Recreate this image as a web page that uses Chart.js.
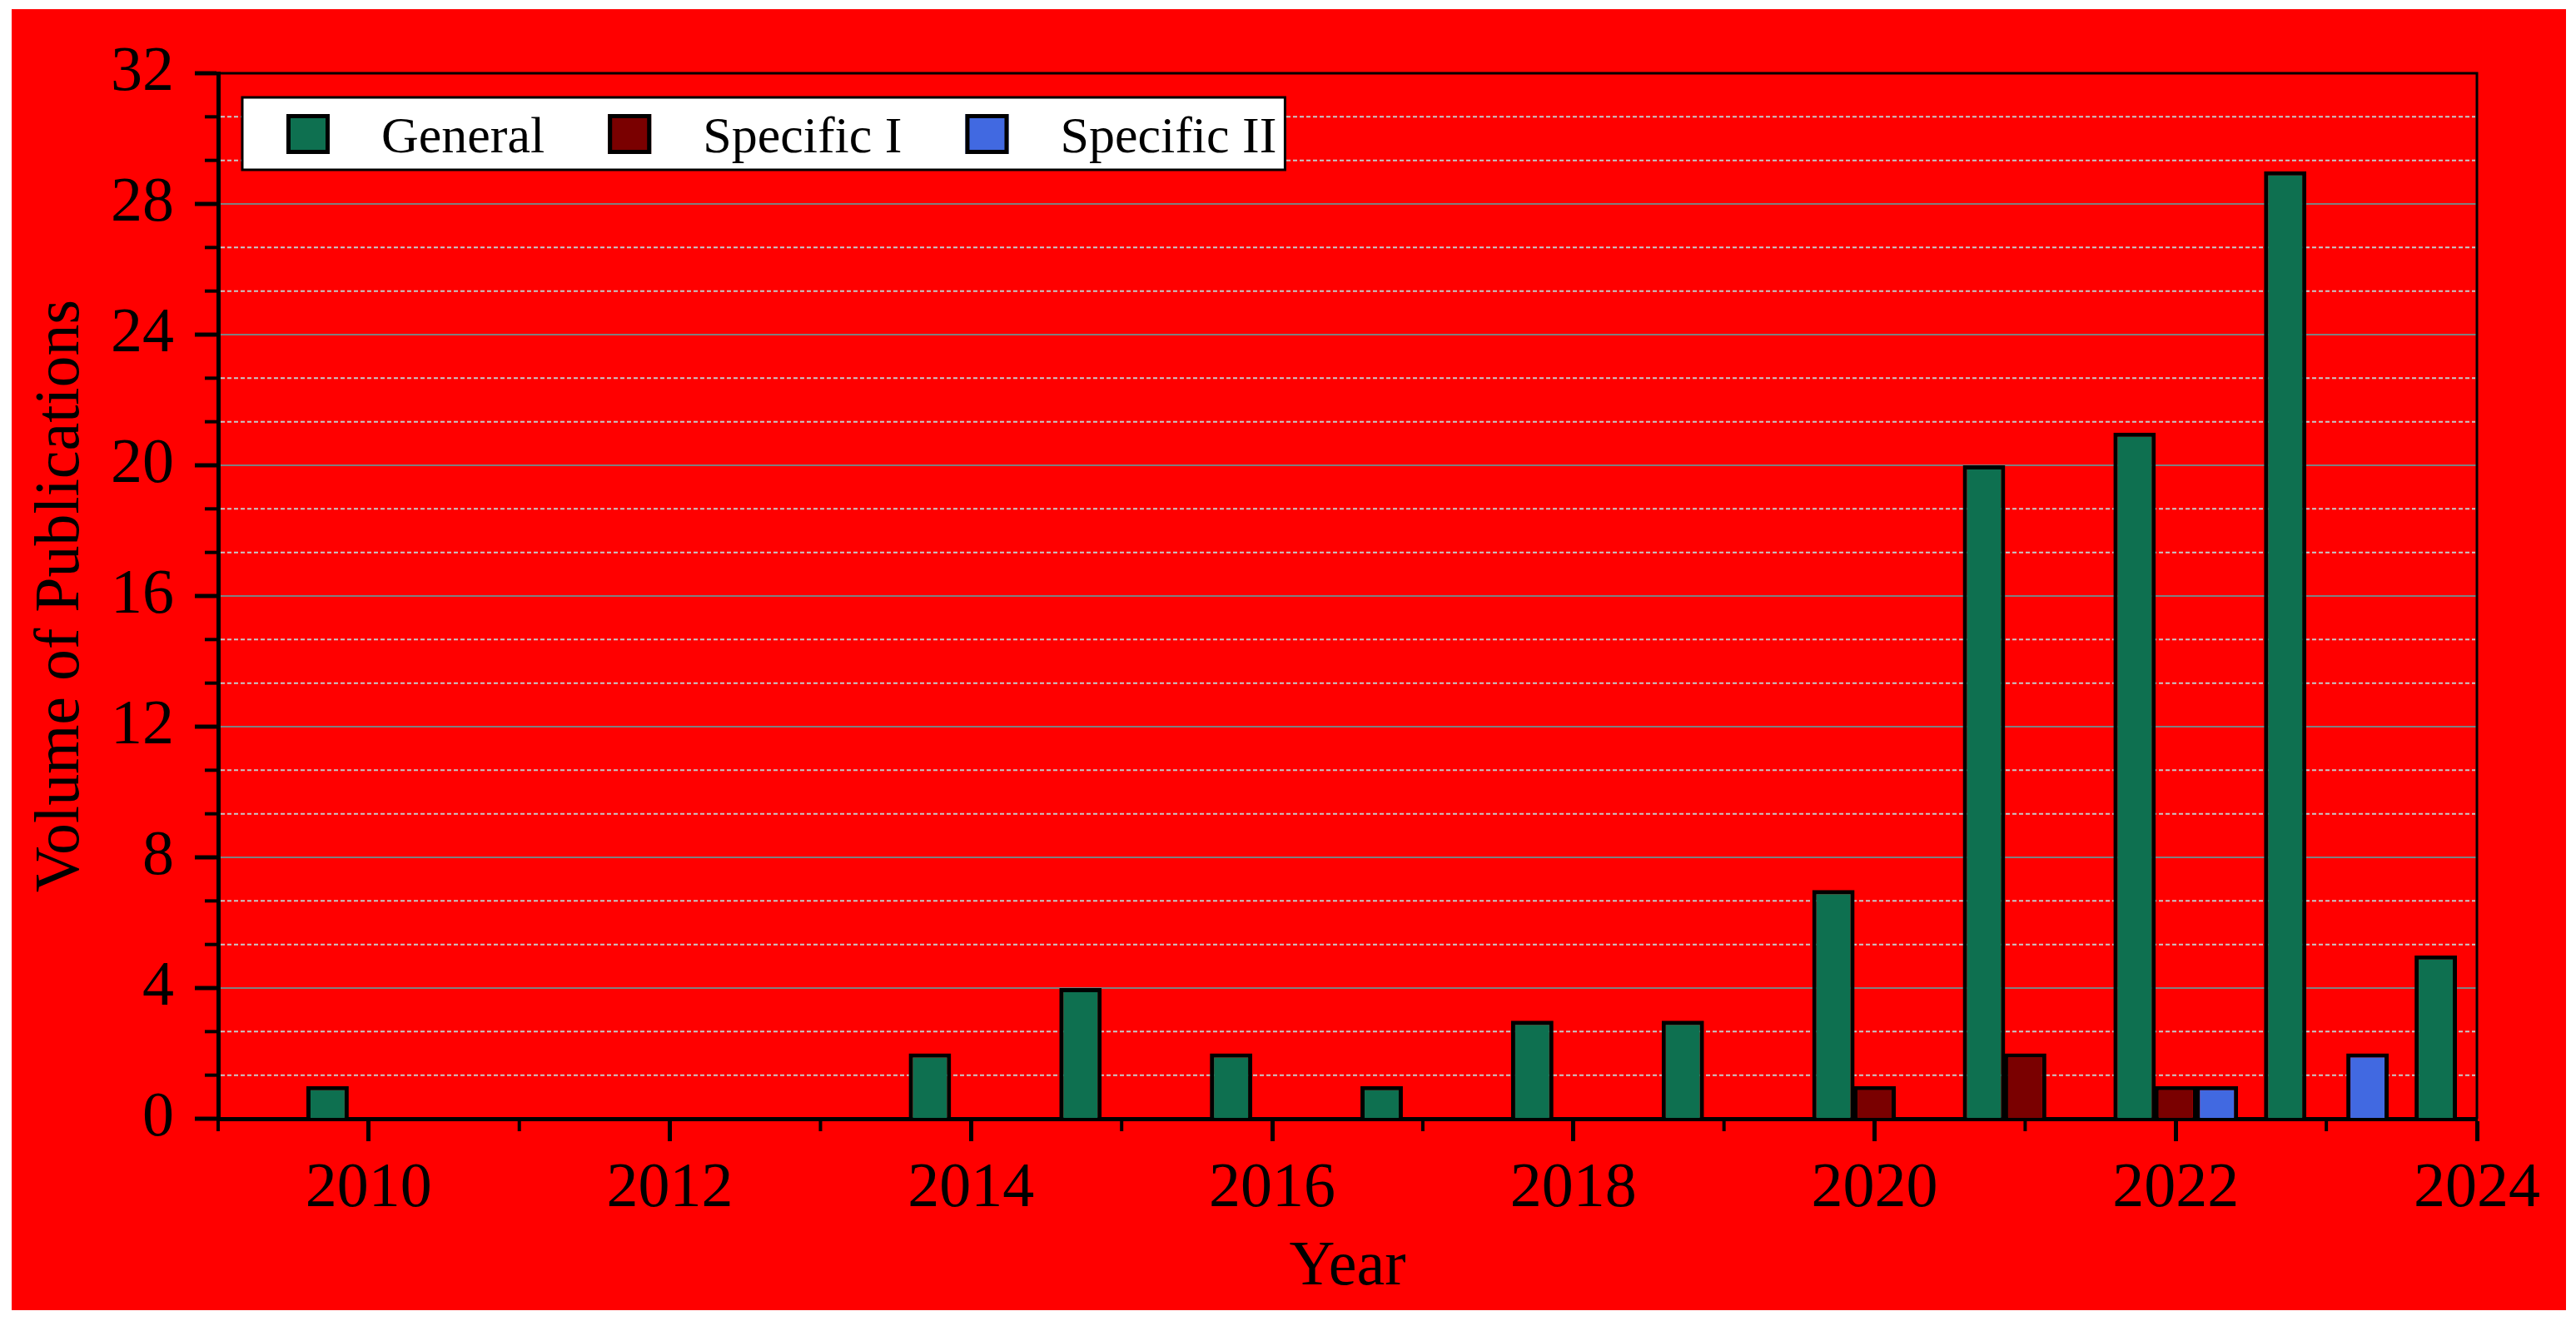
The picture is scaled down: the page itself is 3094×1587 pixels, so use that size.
<!DOCTYPE html>
<html>
<head>
<meta charset="utf-8">
<script src="https://cdn.jsdelivr.net/npm/chart.js@4.4.1/dist/chart.umd.min.js"></script>
<style>
  html, body { margin: 0; padding: 0; background: #ffffff; }
  #wrap { position: absolute; left: 14px; top: 11px; width: 3068px; height: 1563px; background: #ff0000; }
</style>
</head>
<body>
<div id="wrap"><canvas id="pubs"></canvas></div>
<script>
var years = [2010, 2011, 2012, 2013, 2014, 2015, 2016, 2017, 2018, 2019, 2020, 2021, 2022, 2023, 2024];
var general = [1, 0, 0, 0, 2, 4, 2, 1, 3, 3, 7, 20, 21, 29, 5];
var specificOne = [0, 0, 0, 0, 0, 0, 0, 0, 0, 0, 1, 2, 1, 0, 0];
var specificTwo = [0, 0, 0, 0, 0, 0, 0, 0, 0, 0, 0, 0, 1, 2, 0];
var yearLabels = ['2010', '2012', '2014', '2016', '2018', '2020', '2022', '2024'];
var valueLabels = ['0', '4', '8', '12', '16', '20', '24', '28', '32'];

var serif = '"Liberation Serif", "Times New Roman", serif';

// minor grid, minor ticks, top/right frame and the boxed legend
var extras = {
    id: 'extras',
    beforeDatasetsDraw: function(chart) {
        var ctx = chart.ctx, a = chart.chartArea;
        var x = chart.scales.x, y = chart.scales.y;
        ctx.save();
        ctx.strokeStyle = '#c8c8c8';
        ctx.lineWidth = 2;
        ctx.setLineDash([5, 3]);
        for (var i = 1; i < 24; i++) {
            if (i % 3 === 0) continue;
            var py = y.getPixelForValue(i * 4 / 3);
            ctx.beginPath();
            ctx.moveTo(a.left + 3, py);
            ctx.lineTo(a.right - 2, py);
            ctx.stroke();
        }
        ctx.setLineDash([]);
        ctx.strokeStyle = '#000';
        ctx.lineWidth = 4;
        for (var j = 1; j < 24; j++) {
            if (j % 3 === 0) continue;
            var ty = y.getPixelForValue(j * 4 / 3);
            ctx.beginPath();
            ctx.moveTo(a.left, ty);
            ctx.lineTo(a.left - 16, ty);
            ctx.stroke();
        }
        for (var yr = x.min; yr <= x.max; yr++) {
            if (yr % 2 === 0) continue;
            var tx = x.getPixelForValue(yr);
            ctx.beginPath();
            ctx.moveTo(tx, a.bottom);
            ctx.lineTo(tx, a.bottom + 15);
            ctx.stroke();
        }
        ctx.restore();
    },
    afterDatasetsDraw: function(chart) {
        var ctx = chart.ctx, a = chart.chartArea;
        ctx.save();
        ctx.strokeStyle = '#000';
        ctx.lineWidth = 3;
        ctx.beginPath();
        ctx.moveTo(a.left, a.top);
        ctx.lineTo(a.right, a.top);
        ctx.lineTo(a.right, a.bottom);
        ctx.stroke();

        // legend
        var sets = chart.data.datasets;
        ctx.font = '62px ' + serif;
        var bx = a.left + 29, by = a.top + 29, bh = 87;
        var cx = bx + 53, slots = [];
        for (var i = 0; i < sets.length; i++) {
            var w = ctx.measureText(sets[i].label).width;
            slots.push(cx);
            cx += 114 + w + (i < sets.length - 1 ? 76 : 0);
        }
        var bw = cx + 10 - bx;
        ctx.fillStyle = '#fff';
        ctx.fillRect(bx, by, bw, bh);
        ctx.lineWidth = 3;
        ctx.strokeRect(bx, by, bw, bh);
        for (var k = 0; k < sets.length; k++) {
            ctx.fillStyle = sets[k].backgroundColor;
            ctx.fillRect(slots[k], by + 20, 52, 48);
            ctx.lineWidth = 5;
            ctx.strokeRect(slots[k] + 2.5, by + 22.5, 47, 43);
            ctx.fillStyle = '#000';
            ctx.textBaseline = 'alphabetic';
            ctx.fillText(sets[k].label, slots[k] + 114, by + 66);
        }
        ctx.restore();
    }
};

new Chart(document.getElementById('pubs').getContext('2d'), {
    type: 'bar',
    data: {
        labels: years,
        datasets: [{
            label: 'General',
            data: general,
            backgroundColor: '#0e7050',
            borderColor: '#000',
            borderWidth: 5
        }, {
            label: 'Specific I',
            data: specificOne,
            backgroundColor: '#7a0000',
            borderColor: '#000',
            borderWidth: 5
        }, {
            label: 'Specific II',
            data: specificTwo,
            backgroundColor: '#4169e1',
            borderColor: '#000',
            borderWidth: 5
        }]
    },
    options: {
        responsive: true,
        maintainAspectRatio: false,
        animation: false,
        categoryPercentage: 0.82,
        barPercentage: 1.03,
        layout: { padding: { left: 0, top: 77, right: 107, bottom: 0 } },
        plugins: {
            legend: { display: false },
            tooltip: { enabled: false }
        },
        scales: {
            x: {
                type: 'linear',
                min: 2009,
                max: 2024,
                offset: false,
                afterFit: function(s) { s.height = 230; },
                grid: {
                    offset: false,
                    drawOnChartArea: false,
                    tickLength: 27,
                    tickWidth: 5,
                    tickColor: function(c) { return c.tick && c.tick.value % 2 === 0 ? '#000' : 'rgba(0,0,0,0)'; }
                },
                border: { color: '#000', width: 5 },
                ticks: {
                    stepSize: 1,
                    autoSkip: false,
                    maxRotation: 0,
                    padding: 12,
                    color: '#000',
                    font: { family: serif, size: 76 },
                    callback: function(v) { return yearLabels.indexOf(String(v)) >= 0 ? String(v) : ''; }
                },
                title: {
                    display: true,
                    text: 'Year',
                    color: '#000',
                    font: { family: serif, size: 76 },
                    padding: { top: 0, bottom: 5 }
                }
            },
            y: {
                min: 0,
                max: 32,
                afterFit: function(s) { s.width = 248; },
                grid: {
                    color: function(c) { return c.tick && (c.tick.value === 0 || c.tick.value === 32) ? 'rgba(0,0,0,0)' : '#808080'; },
                    lineWidth: 2,
                    tickLength: 28,
                    tickWidth: 5,
                    tickColor: '#000'
                },
                border: { color: '#000', width: 5 },
                ticks: {
                    stepSize: 4,
                    padding: 25,
                    color: '#000',
                    font: { family: serif, size: 76 },
                    callback: function(v) { return valueLabels.indexOf(String(v)) >= 0 ? String(v) : ''; }
                },
                title: {
                    display: true,
                    text: 'Volume of Publications',
                    color: '#000',
                    font: { family: serif, size: 76 },
                    padding: { top: 14, bottom: 0 }
                }
            }
        }
    },
    plugins: [extras]
});
</script>
</body>
</html>
